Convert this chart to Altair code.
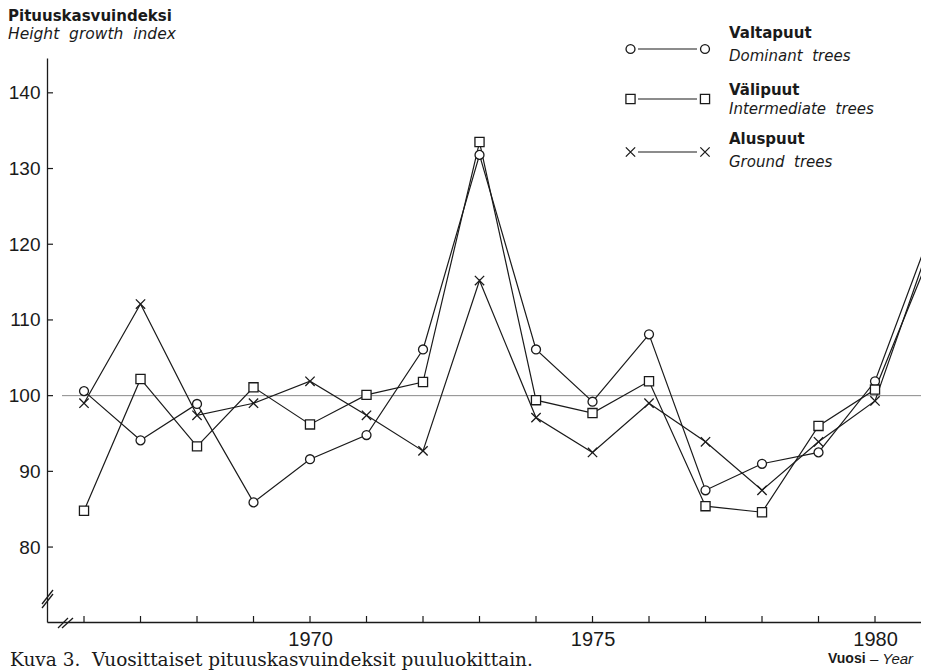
import altair as alt
import pandas as pd

# ---- data ----
years = list(range(1966, 1982))
valtapuut = [100.6, 94.1, 98.9, 85.9, 91.6, 94.8, 106.1, 131.8, 106.1, 99.2, 108.1, 87.5, 91.0, 92.5, 101.9, 121.9]
valipuut = [84.8, 102.2, 93.3, 101.1, 96.2, 100.1, 101.8, 133.5, 99.4, 97.7, 101.9, 85.4, 84.6, 96.0, 100.8, 119.1]
aluspuut = [99.0, 112.1, 97.4, 99.0, 101.9, 97.4, 92.7, 115.2, 97.1, 92.5, 99.0, 93.9, 87.5, 93.9, 99.3, 120.7]

series_fi = ["Valtapuut", "Välipuut", "Aluspuut"]
series_en = ["Dominant\u00a0 trees", "Intermediate\u00a0 trees", "Ground\u00a0 trees"]
x_label_years = [1970, 1975, 1980]
y_tick_values = [80, 90, 100, 110, 120, 130, 140]
reference_value = [100]

rows = []
for name, vals in zip(series_fi, [valtapuut, valipuut, aluspuut]):
    for yr, v in zip(years, vals):
        rows.append({"year": yr, "value": v, "series": name})
df = pd.DataFrame(rows)

W, H = 874, 564
XDOM = [1965.345, 1965.345 + W / 56.5]
YDOM = [70.1, 144.6]

xs = alt.Scale(domain=XDOM, nice=False, zero=False)
ys = alt.Scale(domain=YDOM, nice=False, zero=False)

CROSS = "M-1,-1L1,1M-1,1L1,-1"
shape_scale = alt.Scale(domain=series_fi, range=["circle", "square", CROSS])
size_scale = alt.Scale(domain=series_fi, range=[80, 87, 80])
leg_size_scale = alt.Scale(domain=series_fi, range=[60, 68, 64])

INK = "#1a1a1a"
SANS = "DejaVu Sans"
HEL = "Liberation Sans"

base = alt.Chart(df)

ref = alt.Chart(pd.DataFrame({"v": reference_value})).mark_rule(
    color="#8a8a8a", strokeWidth=1
).encode(y=alt.Y("v:Q", scale=ys), x=alt.value(15), x2=alt.value(W))

lines = base.mark_line(color=INK, strokeWidth=1.2, clip=False).encode(
    x=alt.X("year:Q", scale=xs,
            axis=alt.Axis(values=x_label_years, format="d", ticks=False, grid=False,
                          domainColor=INK, domainWidth=1.3, labelFont=HEL,
                          labelFontSize=20, labelColor=INK, labelPadding=7,
                          title=None, labelFlush=False)),
    y=alt.Y("value:Q", scale=ys,
            axis=alt.Axis(values=y_tick_values, ticks=False, grid=False,
                          domainColor=INK, domainWidth=1.3, labelFont=HEL,
                          labelFontSize=19, labelColor=INK, labelPadding=7,
                          title=None)),
    detail="series:N",
)

points = base.mark_point(filled=True, fill="white", stroke=INK, strokeWidth=1.3,
                         opacity=1, clip=False).encode(
    x=alt.X("year:Q", scale=xs),
    y=alt.Y("value:Q", scale=ys),
    shape=alt.Shape("series:N", scale=shape_scale, legend=None),
    size=alt.Size("series:N", scale=size_scale, legend=None),
)

# inward tick marks
xticks = alt.Chart(pd.DataFrame({"year": years})).mark_rule(
    color=INK, strokeWidth=1.2
).encode(x=alt.X("year:Q", scale=xs), y=alt.value(H - 6), y2=alt.value(H))

yticks = alt.Chart(pd.DataFrame({"v": y_tick_values})).mark_rule(
    color=INK, strokeWidth=1.2
).encode(y=alt.Y("v:Q", scale=ys), x=alt.value(0), x2=alt.value(6))

layers = [ref, lines, points, xticks, yticks]

# axis break marks
def seg(x1, y1, x2, y2, w=1.3):
    return alt.Chart(pd.DataFrame({"a": [0]})).mark_rule(color=INK, strokeWidth=w).encode(
        x=alt.value(x1), y=alt.value(y1), x2=alt.value(x2), y2=alt.value(y2))

layers += [seg(-5, 546, 6, 532), seg(-5, 550, 6, 536),
           seg(11, 570, 21, 560), seg(15, 570, 26, 560)]

def txt(text, x, y, size, font=SANS, weight="normal", style="normal", align="left",
        baseline="middle"):
    return alt.Chart(pd.DataFrame({"t": [text]})).mark_text(
        align=align, baseline=baseline, fontSize=size, font=font,
        fontWeight=weight, fontStyle=style, color=INK
    ).encode(text="t:N", x=alt.value(x), y=alt.value(y))

# headers
layers += [txt("Pituuskasvuindeksi", -39, -37, 15, weight="bold", baseline="alphabetic"),
           txt("Height\u00a0 growth\u00a0 index", -39, -24, 15.5, style="italic")]

# custom legend
leg_marker_y = [-9, 41, 94]
leg_fi_y = [-25, 32, 81]
leg_en_y = [-2, 51, 104]
for i, name in enumerate(series_fi):
    my = leg_marker_y[i]
    layers.append(seg(591, my, 650, my, 1.2))
    ldf = pd.DataFrame({"series": [name, name], "px": [583.5, 658]})
    layers.append(alt.Chart(ldf).mark_point(filled=True, fill="white", stroke=INK,
                                            strokeWidth=1.3, opacity=1).encode(
        x=alt.X("px:Q", scale=None),
        y=alt.value(my),
        shape=alt.Shape("series:N", scale=shape_scale, legend=None),
        size=alt.Size("series:N", scale=leg_size_scale, legend=None)))
    layers.append(txt(name, 682, leg_fi_y[i], 15, weight="bold"))
    layers.append(txt(series_en[i], 682, leg_en_y[i], 15, style="italic"))

# caption and x title
layers += [txt("Kuva 3.\u00a0 Vuosittaiset pituuskasvuindeksit puuluokittain.", -37, 608, 18.5,
               font="DejaVu Serif", baseline="alphabetic"),
           txt("Vuosi", 781, 601, 14, font=HEL, weight="bold"),
           txt("– Year", 823, 601, 15, font=HEL, style="italic")]

chart = alt.layer(*layers).properties(
    width=W, height=H,
    padding={"left": 39, "top": 50, "right": 0, "bottom": 48},
    autosize=alt.AutoSizeParams(type="none"),
).configure_view(stroke=None)

chart.save("out.html", embed_options={"renderer": "svg", "actions": False})
